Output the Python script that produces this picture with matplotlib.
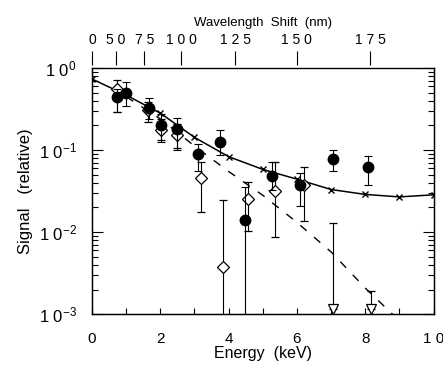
import matplotlib.pyplot as plt
import numpy as np

plt.rcParams['font.family'] = ['Liberation Sans', 'DejaVu Sans']
plt.rcParams['mathtext.default'] = 'regular'

line_e = [0, 1, 2, 3, 4, 5, 6, 7, 8, 9, 10]
line_log = [-0.134, -0.33, -0.55, -0.845, -1.08, -1.235, -1.354, -1.48, -1.54, -1.57, -1.545]

dash_e = [1, 2, 3, 4, 5, 6, 7, 8, 9]
dash_log = [-0.35, -0.62, -0.95, -1.26, -1.55, -1.88, -2.24, -2.68, -3.08]

circ_e = [0.73, 1.00, 1.67, 2.03, 2.49, 3.11, 3.76, 4.48, 5.26, 6.09, 7.05, 8.08]
circ_log = [-0.357, -0.30, -0.484, -0.70, -0.745, -1.05, -0.90, -1.85, -1.31, -1.43, -1.11, -1.21]
circ_lo = [-0.53, -0.46, -0.62, -0.905, -1.0, -1.25, -1.06, -3.5, -1.48, -1.68, -1.26, -1.43]
circ_hi = [-0.256, -0.175, -0.37, -0.565, -0.605, -0.92, -0.756, -1.445, -1.15, -1.275, -1.0, -1.07]

diam_e = [0.72, 1.65, 2.03, 2.50, 3.18, 3.84, 4.57, 5.36, 6.20]
diam_log = [-0.26, -0.51, -0.76, -0.82, -1.345, -2.42, -1.59, -1.50, -1.43]
diam_lo = [-0.53, -0.66, -0.88, -0.98, -1.76, -3.5, -1.99, -2.06, -1.86]
diam_hi = [-0.146, -0.42, -0.62, -0.68, -1.14, -1.61, -1.385, -1.14, -1.21]

tri_e = [7.07, 8.16]
tri_log = [-2.93, -2.93]
tri_hi = [-1.89, -2.72]

wl_labels = ['0', '5 0', '7 5', '1 0 0', '1 2 5', '1 5 0', '1 7 5']
wl_pos = [0.0, 0.70, 1.53, 2.61, 4.19, 6.00, 8.15]

fig = plt.figure(figsize=(4.43, 3.66), dpi=100)
ax = fig.add_axes([0.2077, 0.1413, 0.7709, 0.6729])


def lin(v):
    return 10 ** np.array(v, dtype=float)


ax.plot(line_e, lin(line_log), color='black', lw=1.1, marker='x', ms=4, mew=1)
ax.plot(dash_e, lin(dash_log), color='black', lw=1.0, dashes=(6, 7))

cv = lin(circ_log)
ax.errorbar(circ_e, cv, yerr=[cv - lin(circ_lo), lin(circ_hi) - cv], fmt='o', color='black',
            ms=7.5, elinewidth=0.8, capsize=3, capthick=0.8, zorder=4)
dv = lin(diam_log)
ax.errorbar(diam_e, dv, yerr=[dv - lin(diam_lo), lin(diam_hi) - dv], fmt='D', mfc='white',
            mec='black', color='black', ms=6, mew=0.9, elinewidth=0.8, capsize=3,
            capthick=0.8, zorder=3)
tv = lin(tri_log)
ax.errorbar(tri_e, tv, yerr=[np.zeros(2), lin(tri_hi) - tv], fmt='v', mfc='white',
            mec='black', color='black', ms=7.5, mew=0.9, elinewidth=0.8, capsize=3,
            capthick=0.8, zorder=3)

ax.set_yscale('log')
ax.set_xlim(0, 10)
ax.set_ylim(1e-3, 1)

ax.set_xticks([0, 2, 4, 6, 8, 10])
ax.set_xticklabels(['0', '2', '4', '6', '8', '1 0'], fontsize=11)
ax.set_xticks(np.arange(0, 11, 1), minor=True)
ax.set_yticks([1e-3, 1e-2, 1e-1, 1])
ax.set_yticklabels(['1 0$^{-3}$', '1 0$^{-2}$', '1 0$^{-1}$', '1 0$^{0}$'], fontsize=12)
ax.tick_params(axis='both', which='both', direction='in', top=True, right=True, width=0.8)
ax.tick_params(axis='x', which='both', length=4, pad=13)
ax.tick_params(axis='y', which='major', length=8, pad=11)
ax.tick_params(axis='y', which='minor', length=4)
for s in ax.spines.values():
    s.set_linewidth(1.0)

ax.set_xlabel('Energy  (keV)', fontsize=11.5, labelpad=0)
ax.set_ylabel('Signal   (relative)', fontsize=12, labelpad=4)

ax2 = ax.twiny()
ax2.set_xlim(0, 10)
ax2.set_xticks(wl_pos)
ax2.set_xticklabels(wl_labels, fontsize=8.5)
ax2.spines['top'].set_position(('outward', 2))
ax2.spines['top'].set_visible(False)
ax2.tick_params(axis='x', direction='out', length=10, width=0.8, pad=3)
ax2.set_xlabel('Wavelength  Shift  (nm)', fontsize=9.5, labelpad=5)

fig.savefig('out.png', dpi=100)
